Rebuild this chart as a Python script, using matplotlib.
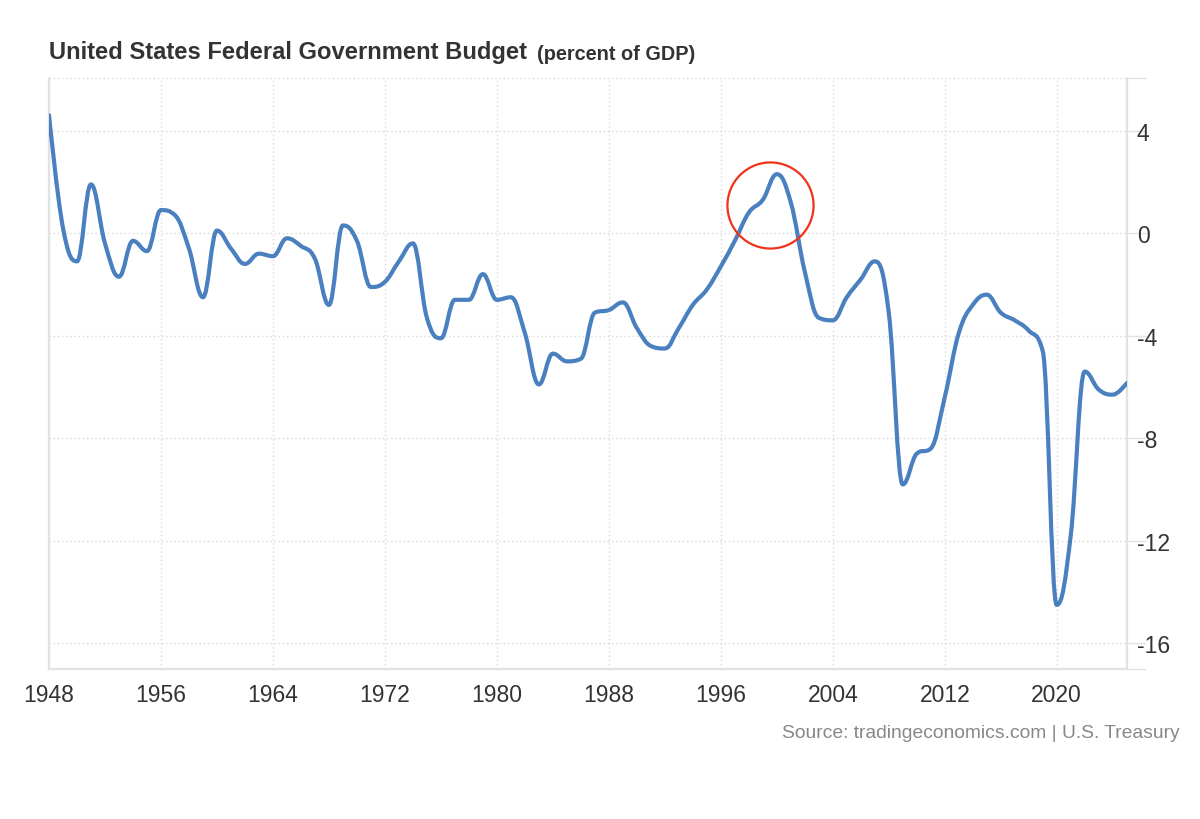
import matplotlib
matplotlib.use("Agg")
import matplotlib.pyplot as plt
import numpy as np
from matplotlib.path import Path
from matplotlib.patches import PathPatch

plt.rcParams["font.family"] = ["Liberation Sans", "DejaVu Sans"]
plt.rcParams["axes.unicode_minus"] = False

# budget balance, percent of GDP
years = list(range(1948, 2026))
balance = [
    4.6, 0.2, -1.1, 1.9, -0.4, -1.7, -0.3, -0.7, 0.9, 0.7,      # 1948-1957
    -0.6, -2.5, 0.1, -0.6, -1.2, -0.8, -0.9, -0.2, -0.5, -1.0,  # 1958-1967
    -2.8, 0.3, -0.3, -2.1, -1.9, -1.1, -0.4, -3.3, -4.1, -2.6,  # 1968-1977
    -2.6, -1.6, -2.6, -2.5, -3.9, -5.9, -4.7, -5.0, -4.9, -3.1, # 1978-1987
    -3.0, -2.7, -3.7, -4.4, -4.5, -3.7, -2.8, -2.2, -1.3, -0.3, # 1988-1997
    0.8, 1.3, 2.3, 1.2, -1.5, -3.3, -3.4, -2.5, -1.8, -1.1,     # 1998-2007
    -3.1, -9.8, -8.6, -8.4, -6.4, -3.9, -2.8, -2.4, -3.1, -3.4, # 2008-2017
    -3.8, -4.6, -14.5, -11.8, -5.4, -6.1, -6.3, -5.85,          # 2018-2025
]
x_ticks = list(range(1948, 2021, 8))
y_ticks = [4, 0, -4, -8, -12, -16]

# the ring drawn around the late-90s surplus
ring_year = 1999.5
ring_value = 1.1

line_color = "#4a80c0"
grid_color = "#d9d9d9"
axis_color = "#e2e2e2"
text_color = "#333333"


def smooth_path(xs, ys, smoothing=1.5):
    # same idea as a highcharts spline: tangents from neighbours,
    # flattened at local peaks/troughs so the curve never overshoots
    xs = np.asarray(xs, float)
    ys = np.asarray(ys, float)
    n = len(xs)
    denom = smoothing + 1
    left = [(xs[i], ys[i]) for i in range(n)]
    right = [(xs[i], ys[i]) for i in range(n)]
    for i in range(1, n - 1):
        x, y = xs[i], ys[i]
        lx, ly = xs[i - 1], ys[i - 1]
        nx, ny = xs[i + 1], ys[i + 1]
        lcx = (smoothing * x + lx) / denom
        lcy = (smoothing * y + ly) / denom
        rcx = (smoothing * x + nx) / denom
        rcy = (smoothing * y + ny) / denom
        corr = (rcy - lcy) * (rcx - x) / (rcx - lcx) + y - rcy
        lcy += corr
        rcy += corr
        if lcy > ly and lcy > y:
            lcy = max(ly, y)
            rcy = 2 * y - lcy
        elif lcy < ly and lcy < y:
            lcy = min(ly, y)
            rcy = 2 * y - lcy
        if rcy > ny and rcy > y:
            rcy = max(ny, y)
            lcy = 2 * y - rcy
        elif rcy < ny and rcy < y:
            rcy = min(ny, y)
            lcy = 2 * y - rcy
        left[i] = (lcx, lcy)
        right[i] = (rcx, rcy)

    verts = [(xs[0], ys[0])]
    codes = [Path.MOVETO]
    for i in range(1, n):
        verts += [right[i - 1], left[i], (xs[i], ys[i])]
        codes += [Path.CURVE4] * 3
    return Path(verts, codes)


fig = plt.figure(figsize=(12, 8.2), dpi=100)
ax = fig.add_axes([49 / 1200, 0.18293, (1126.7 - 49) / 1200, 0.90329 - 0.18293])

ax.add_patch(PathPatch(smooth_path(years, balance), facecolor="none",
                       edgecolor=line_color, linewidth=3.0,
                       capstyle="round", joinstyle="round", zorder=3))

ax.plot([ring_year], [ring_value], marker="o", markersize=62,
        markerfacecolor="none", markeredgecolor="#f0321a",
        markeredgewidth=1.6, zorder=4)

ax.set_xlim(1948, 2025)
ax.set_ylim(-17, 6.04)

ax.set_xticks(x_ticks)
ax.set_xticklabels([str(y) for y in x_ticks])
ax.set_yticks(y_ticks + [6.04])
ax.set_yticklabels([str(v) for v in y_ticks] + [""])
ax.yaxis.tick_right()

ax.grid(True, color=grid_color, linestyle=(0, (1, 2)), linewidth=1.0)
ax.set_axisbelow(True)

for side in ["left", "right", "bottom"]:
    ax.spines[side].set_color(axis_color)
    ax.spines[side].set_linewidth(1.6)
ax.spines["top"].set_visible(False)

ax.tick_params(axis="x", length=0, pad=10, labelsize=16.5, labelcolor=text_color)
ax.tick_params(axis="y", length=13.7, width=1.0, color=axis_color,
               pad=-6.5, labelsize=16.5, labelcolor=text_color)

# extra tick at the bottom end of the right axis
ax.plot([1, 1.017], [0, 0], transform=ax.transAxes, color=axis_color,
        linewidth=1.0, clip_on=False)

fig.text(49 / 1200, 1 - 59.5 / 820, "United States Federal Government Budget",
         fontsize=17.1, fontweight="bold", color=text_color, va="baseline", ha="left")
fig.text(537 / 1200, 1 - 59.5 / 820, "(percent of GDP)",
         fontsize=14.3, fontweight="bold", color=text_color, va="baseline", ha="left")

fig.text(1180 / 1200, 1 - 734 / 820, "Source: tradingeconomics.com | U.S. Treasury",
         fontsize=13.9, color="#888888", va="center", ha="right")

fig.savefig("out.png", dpi=100)
